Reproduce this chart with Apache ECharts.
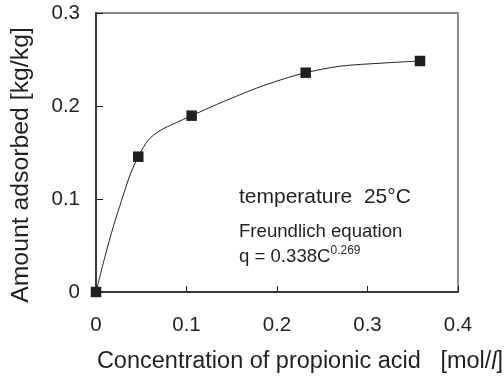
<!DOCTYPE html>
<html>
<head>
<meta charset="utf-8">
<script src="https://cdn.jsdelivr.net/npm/echarts@6/dist/echarts.min.js"></script>
<style>
  html, body { margin: 0; padding: 0; background: #fff; }
  #chart { width: 504px; height: 378px; }
</style>
</head>
<body>
<div id="chart"></div>
<script>
// measured points (C, q)
const pointsC = [0, 0.0467, 0.1057, 0.2317, 0.358];
const pointsQ = [0, 0.1455, 0.1896, 0.2358, 0.2484];

// fitted curve
const curveC = [0, 0.0099, 0.0191, 0.0284, 0.0376, 0.0467, 0.0578, 0.0707, 0.0873, 0.1057,
                0.126, 0.1407, 0.1775, 0.207, 0.2317, 0.2696, 0.3175, 0.358];
const curveQ = [0, 0.038, 0.0702, 0.0989, 0.1258, 0.1455, 0.1634, 0.1735, 0.1815, 0.1896,
                0.1985, 0.2047, 0.2192, 0.229, 0.2358, 0.2428, 0.2462, 0.2484];

const xTicks = [0, 0.1, 0.2, 0.3, 0.4];
const yTicks = [0, 0.1, 0.2, 0.3];

const ink = "#231f20";
const font = "'Liberation Sans', Arial, sans-serif";

const chart = echarts.init(document.getElementById("chart"));

const fmt = v => (v === 0 ? "0" : v.toFixed(1));

chart.setOption({
    animation: false,
    grid: {
        left: 96, right: 46, top: 13, bottom: 86,
        outerBoundsMode: "none",
        show: true, borderColor: "#8a8a8a", borderWidth: 2
    },
    xAxis: {
        type: "value",
        min: xTicks[0], max: xTicks[xTicks.length - 1], interval: 0.1,
        name: "Concentration of propionic acid   [mol/{it|l}]",
        nameLocation: "middle",
        nameGap: 58,
        nameTextStyle: {
            color: ink, fontFamily: font, fontSize: 23.5,
            padding: [0, 0, 0, 46],
            rich: { it: { fontStyle: "italic", fontFamily: font, fontSize: 23.5, color: ink } }
        },
        axisLine: { lineStyle: { color: ink, width: 1.5 } },
        axisTick: { inside: true, length: 6, lineStyle: { color: ink } },
        axisLabel: { color: ink, fontFamily: font, fontSize: 20.5, margin: 23, formatter: fmt },
        splitLine: { show: false }
    },
    yAxis: {
        type: "value",
        min: yTicks[0], max: yTicks[yTicks.length - 1], interval: 0.1,
        name: "Amount adsorbed [kg/kg]",
        nameLocation: "middle",
        nameGap: 62,
        nameTextStyle: {
            color: ink, fontFamily: font, fontSize: 24.8,
            padding: [0, 25, 0, 0]
        },
        axisLine: { show: true, lineStyle: { color: ink, width: 1.5 } },
        axisTick: { show: true, inside: true, length: 7, lineStyle: { color: ink } },
        axisLabel: { color: ink, fontFamily: font, fontSize: 20.5, margin: 16, formatter: fmt },
        splitLine: { show: false }
    },
    series: [
        {
            type: "line",
            data: curveC.map((c, i) => [c, curveQ[i]]),
            showSymbol: false,
            smooth: 0.3,
            lineStyle: { color: ink, width: 1 },
            z: 2
        },
        {
            type: "scatter",
            data: pointsC.map((c, i) => [c, pointsQ[i]]),
            symbol: "rect",
            symbolSize: 10.5,
            itemStyle: { color: ink, opacity: 1 },
            z: 3
        }
    ],
    graphic: [
        {
            type: "text", left: 239, top: 187,
            style: { text: "temperature  25°C", font: "21px " + font, fill: ink }
        },
        {
            type: "text", left: 239, top: 222,
            style: { text: "Freundlich equation", font: "18.6px " + font, fill: ink }
        },
        {
            type: "text", left: 239, top: 245,
            style: {
                text: "{b|q = 0.338C}{s|0.269}",
                fill: ink,
                rich: {
                    b: { fontFamily: font, fontSize: 18.6, color: ink, verticalAlign: "bottom", lineHeight: 21 },
                    s: { fontFamily: font, fontSize: 12, color: ink, verticalAlign: "top", lineHeight: 21 }
                }
            }
        }
    ]
});
</script>
</body>
</html>
